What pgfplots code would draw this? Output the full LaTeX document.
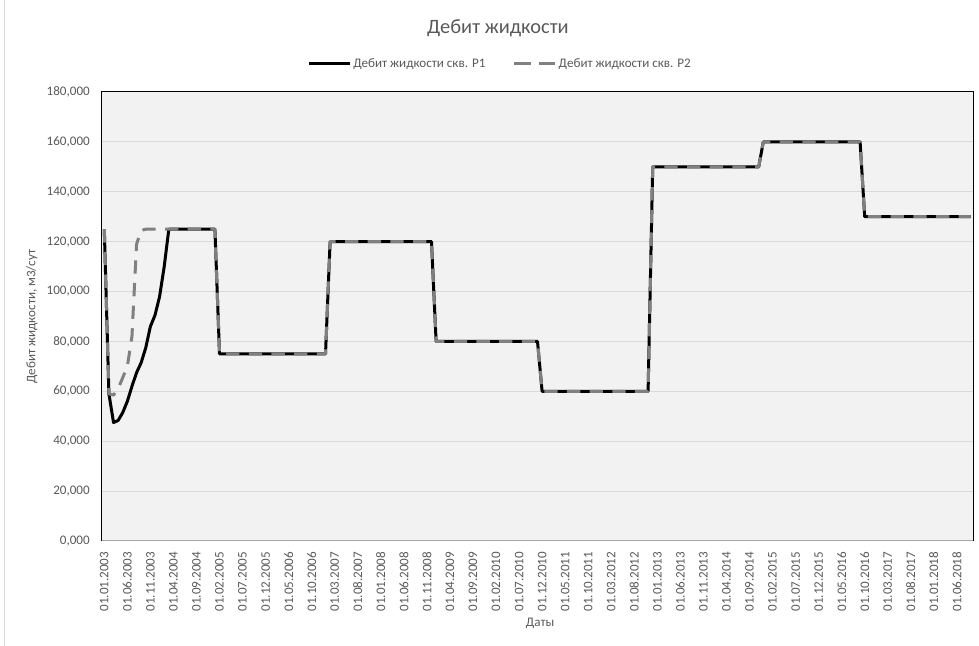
\documentclass[border=0pt]{standalone}
\usepackage{fontspec}
\setmainfont{Carlito}
\usepackage{pgfplots}
\pgfplotsset{compat=1.18}

\definecolor{txt}{HTML}{595959}
\definecolor{plotbg}{HTML}{F2F2F2}
\definecolor{gridc}{HTML}{D9D9D9}
\definecolor{serP2}{HTML}{808080}
\definecolor{xaxisc}{HTML}{A6A6A6}

\begin{document}
\begin{tikzpicture}
% overall picture: 979 x 646 units of 0.75pt, plot area origin at (102,105)
\useasboundingbox (-102*0.75pt,-105*0.75pt) rectangle (877*0.75pt,541*0.75pt);
% chart area edge on the left
\draw[gridc, line width=0.75pt] (-97*0.75pt,-105*0.75pt) -- (-97*0.75pt,541*0.75pt);
\begin{axis}[
  at={(0pt,0pt)}, anchor=south west,
  scale only axis,
  width=653.25pt, height=336.75pt,
  xmin=-0.5, xmax=188.5,
  ymin=0, ymax=180,
  ytick={0,20,...,180},
  xtick={0,5,...,185},
  xticklabels={01.01.2003,01.06.2003,01.11.2003,01.04.2004,01.09.2004,
    01.02.2005,01.07.2005,01.12.2005,01.05.2006,01.10.2006,01.03.2007,
    01.08.2007,01.01.2008,01.06.2008,01.11.2008,01.04.2009,01.09.2009,
    01.02.2010,01.07.2010,01.12.2010,01.05.2011,01.10.2011,01.03.2012,
    01.08.2012,01.01.2013,01.06.2013,01.11.2013,01.04.2014,01.09.2014,
    01.02.2015,01.07.2015,01.12.2015,01.05.2016,01.10.2016,01.03.2017,
    01.08.2017,01.01.2018,01.06.2018},
  major tick length=0pt,
  ymajorgrids,
  grid style={gridc, line width=0.75pt},
  axis background/.style={fill=plotbg},
  axis line style={black, line width=0.75pt},
  tick label style={font=\fontsize{9.8}{11}\selectfont, text=txt},
  yticklabel style={anchor=east, inner sep=0pt,
    /pgf/number format/fixed,
    /pgf/number format/fixed zerofill,
    /pgf/number format/precision=3,
    /pgf/number format/use comma,
    /pgf/number format/1000 sep={},
    /pgf/number format/assume math mode=true},
  yticklabel shift=9pt,
  xticklabel style={rotate=90, anchor=east, inner sep=0pt},
  xticklabel shift=8pt,
  title={Дебит жидкости},
  title style={at={(axis description cs:0.4546,1.1247)}, anchor=center,
    font=\fontsize{15.3}{18}\selectfont, text=txt},
  ylabel={Дебит жидкости, м3/сут},
  every axis y label/.style={at={(axis description cs:-0.0804,0.5)},
    rotate=90, anchor=center, font=\fontsize{9.8}{11}\selectfont, text=txt},
  xlabel={Даты},
  every axis x label/.style={at={(axis description cs:0.503,-0.1826)},
    anchor=center, font=\fontsize{9.8}{11}\selectfont, text=txt},
  legend columns=2,
  legend style={at={(axis description cs:0.457,1.0624)}, anchor=center,
    draw=none, fill=none, font=\fontsize{9.8}{11}\selectfont, text=txt,
    inner sep=0pt, nodes={inner sep=1.5pt},
    /tikz/every even column/.append style={column sep=19pt}},
  legend image code/.code={\draw[#1] (0pt,0pt) -- (30.75pt,0pt);},
]

% well P1
\addplot[black, line width=2.25pt, line join=round] coordinates {
  (0,125) (1,59) (2,47.5) (3,48.3) (4,51.5) (5,56) (6,62) (7,67.5)
  (8,71.5) (9,77.5) (10,86) (11,90.5) (12,98) (13,110) (14,125)
  (24,125) (25,75) (48,75) (49,120) (71,120) (72,80) (94,80) (95,60)
  (118,60) (119,150) (142,150) (143,160) (164,160) (165,130) (188,130)
};
\addlegendentry{Дебит жидкости скв. P1}

% well P2
\addplot[serP2, line width=2.25pt, line join=round,
  dash pattern=on 10pt off 7pt,
  legend image code/.code={\draw[serP2, line width=2.25pt,
    dash pattern=on 12.5pt off 6pt] (0pt,0pt) -- (30.75pt,0pt);}]
  coordinates {
  (0,125) (1,59) (2,58.5) (3,61) (4,65.5) (5,70) (6,82) (7,119)
  (8,124.5) (9,125)
  (24,125) (25,75) (48,75) (49,120) (71,120) (72,80) (94,80) (95,60)
  (118,60) (119,150) (142,150) (143,160) (164,160) (165,130) (188,130)
};
\addlegendentry{Дебит жидкости скв. P2}

% horizontal category axis line
\draw[xaxisc, line width=1.2pt] (rel axis cs:0,0) -- (rel axis cs:1,0);
\end{axis}
\end{tikzpicture}
\end{document}
